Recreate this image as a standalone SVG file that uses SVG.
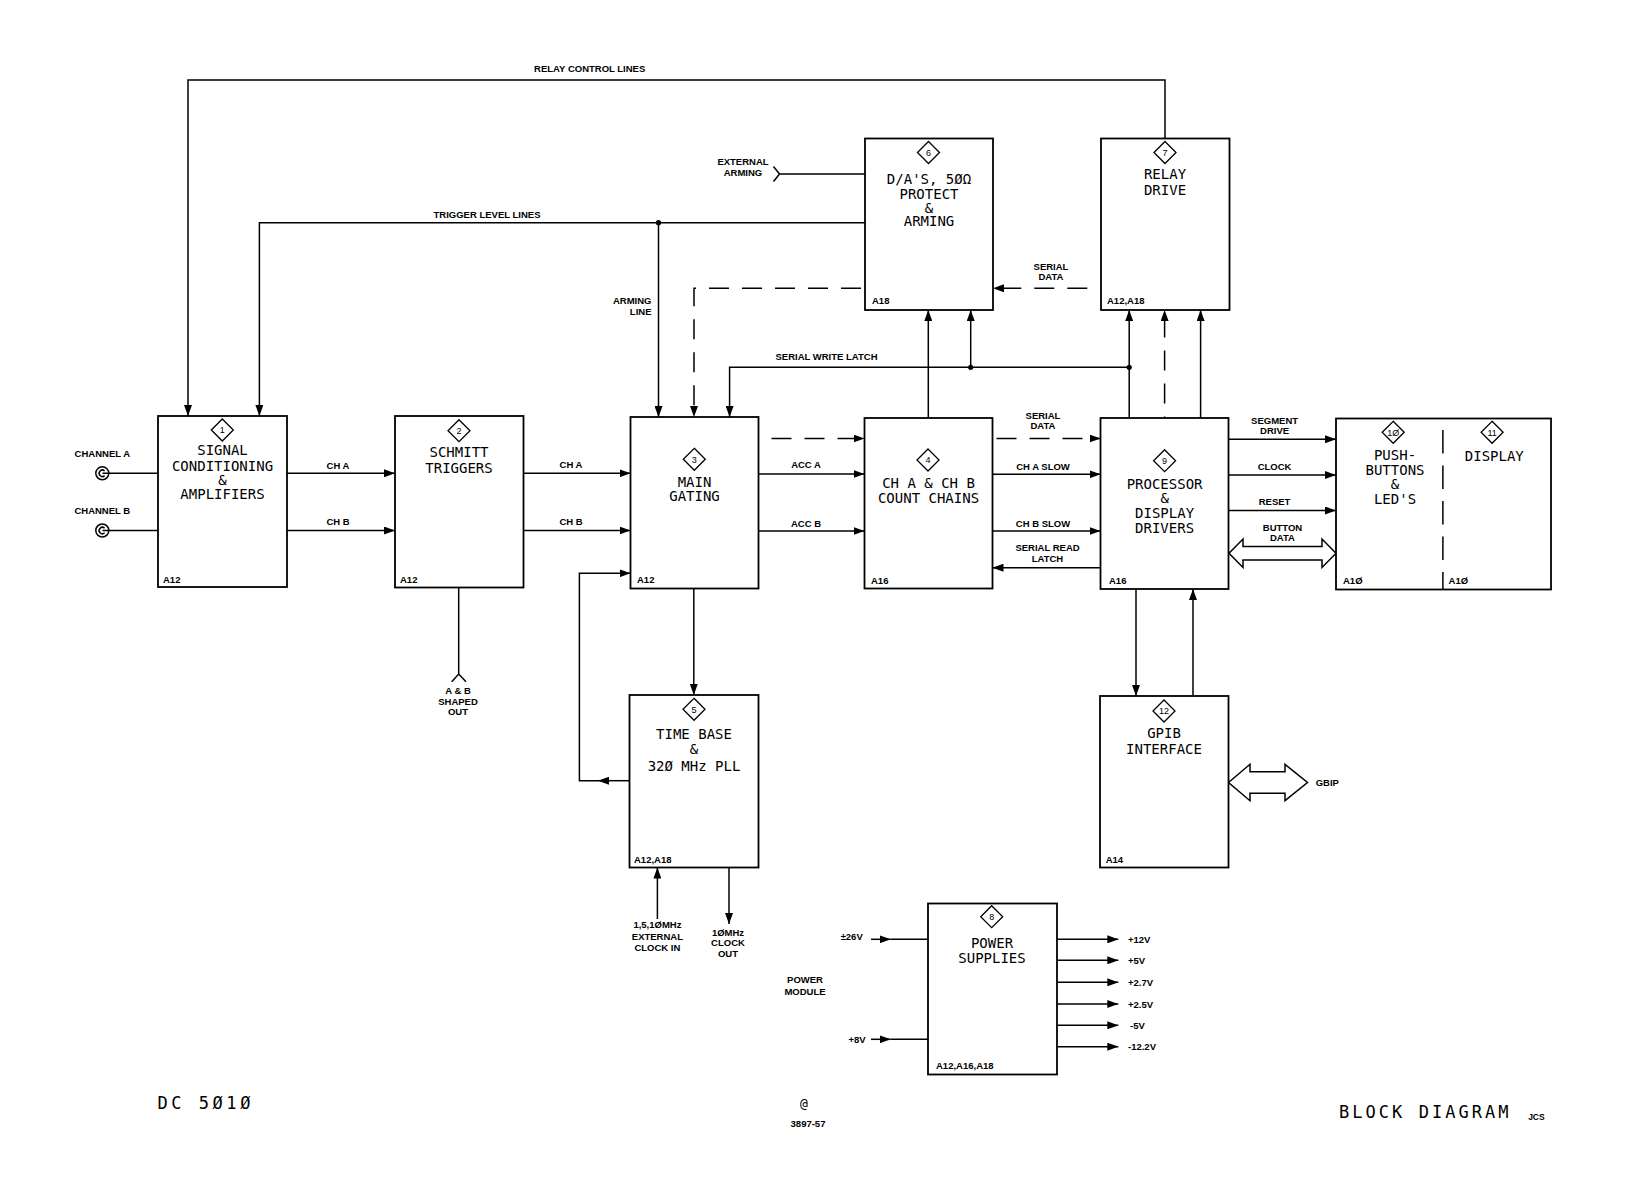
<svg xmlns="http://www.w3.org/2000/svg" width="1631" height="1178" viewBox="0 0 1631 1178">
<style>
.bg{fill:#fff}
.box{fill:#fff;stroke:#000;stroke-width:1.8}
.ln{fill:none;stroke:#000;stroke-width:1.5}
.dash{stroke-dasharray:20 13}
.big{font-family:"DejaVu Sans Mono","Liberation Mono",monospace;font-size:14px;text-anchor:middle;fill:#000}
.sm{font-family:"Liberation Sans",Arial,sans-serif;font-weight:bold;font-size:9.5px;text-anchor:middle;fill:#000}
.lft{text-anchor:start}
.rgt{text-anchor:end}
.num{font-family:"Liberation Sans",Arial,sans-serif;font-size:9px;text-anchor:middle;fill:#000}
.dia{fill:#fff;stroke:#000;stroke-width:1.3}
.dot{fill:#000}
.dbl{fill:#fff;stroke:#000;stroke-width:1.5}
.ttl{font-family:"DejaVu Sans Mono","Liberation Mono",monospace;font-size:17px;fill:#000}
</style>
<defs>
<marker id="ah" viewBox="0 0 11 8" refX="11" refY="4" markerWidth="11" markerHeight="8" markerUnits="userSpaceOnUse" orient="auto"><path d="M0,0 L11,4 L0,8 z" fill="#000"/></marker>
</defs>
<rect class="bg" x="0" y="0" width="1631" height="1178"/>

<g id="connectors">
<!-- relay control lines -->
<path class="ln" d="M1165,138.5 V80 H188 V416" marker-end="url(#ah)"/>
<text class="sm" x="589.7" y="71.5">RELAY CONTROL LINES</text>
<!-- trigger level lines -->
<path class="ln" d="M865,222.7 H259.4 V416" marker-end="url(#ah)"/>
<path class="ln" d="M658.5,222.7 V417" marker-end="url(#ah)"/>
<circle class="dot" cx="658.5" cy="222.7" r="2.6"/>
<text class="sm" x="487" y="217.5">TRIGGER LEVEL LINES</text>
<text class="sm rgt" x="651.5" y="304">ARMING</text>
<text class="sm rgt" x="651.5" y="315">LINE</text>
<!-- external arming -->
<path class="ln" d="M773.5,166.5 L779.5,174 L773.5,181.5 M779.5,174 H865"/>
<text class="sm" x="743" y="165">EXTERNAL</text>
<text class="sm" x="743" y="175.8">ARMING</text>
<!-- serial data loop (dashed) -->
<path class="ln dash" d="M1164.6,310 V288.3 H993" marker-end="url(#ah)"/>
<path class="ln dash" d="M993,288.3 H694 V417" marker-end="url(#ah)"/>
<path class="ln dash" d="M694,417 V438.5 H864.5" marker-end="url(#ah)"/>
<path class="ln dash" d="M864.5,438.5 H1100.5" marker-end="url(#ah)"/>
<path class="ln dash" d="M1100.5,438.5 H1164.6 V310" marker-end="url(#ah)"/>
<text class="sm" x="1051" y="270">SERIAL</text>
<text class="sm" x="1051" y="280">DATA</text>
<text class="sm" x="1043" y="418.5">SERIAL</text>
<text class="sm" x="1043" y="429">DATA</text>
<!-- serial write latch -->
<path class="ln" d="M1129.2,418 V310" marker-end="url(#ah)"/>
<path class="ln" d="M1129.2,367.3 H729.6 V417" marker-end="url(#ah)"/>
<path class="ln" d="M970.7,367.3 V310" marker-end="url(#ah)"/>
<circle class="dot" cx="970.7" cy="367.3" r="2.6"/>
<circle class="dot" cx="1129.2" cy="367.3" r="2.6"/>
<text class="sm" x="826.5" y="360">SERIAL WRITE LATCH</text>
<!-- box4 -> box6, box9 -> box7 -->
<path class="ln" d="M928.3,418 V310" marker-end="url(#ah)"/>
<path class="ln" d="M1200.6,418 V310" marker-end="url(#ah)"/>
<!-- channel inputs -->
<circle class="ln" cx="102.3" cy="473.3" r="6.5"/>
<path class="ln" d="M104.6,471 A3.2,3.2 0 1 0 104.6,475.6"/>
<path class="ln" d="M102.5,473.3 H158"/>
<circle class="ln" cx="102.3" cy="530.5" r="6.5"/>
<path class="ln" d="M104.6,528.2 A3.2,3.2 0 1 0 104.6,532.8"/>
<path class="ln" d="M102.5,530.5 H158"/>
<text class="sm" x="102.3" y="457">CHANNEL A</text>
<text class="sm" x="102.3" y="513.5">CHANNEL B</text>
<!-- box1 -> box2 -->
<path class="ln" d="M287,473.3 H395" marker-end="url(#ah)"/>
<path class="ln" d="M287,530.5 H395" marker-end="url(#ah)"/>
<text class="sm" x="338" y="468.5">CH A</text>
<text class="sm" x="338" y="525">CH B</text>
<!-- box2 -> box3 -->
<path class="ln" d="M523.5,473.3 H630.5" marker-end="url(#ah)"/>
<path class="ln" d="M523.5,530.5 H630.5" marker-end="url(#ah)"/>
<text class="sm" x="571" y="467.5">CH A</text>
<text class="sm" x="571" y="524.5">CH B</text>
<!-- shaped out -->
<path class="ln" d="M458.7,587.5 V674 M451.7,681.7 L458.7,674 L466,681.7"/>
<text class="sm" x="458" y="694">A &amp; B</text>
<text class="sm" x="458" y="704.5">SHAPED</text>
<text class="sm" x="458" y="715">OUT</text>
<!-- box3 -> box4 -->
<path class="ln" d="M758.5,474 H864.5" marker-end="url(#ah)"/>
<path class="ln" d="M758.5,531 H864.5" marker-end="url(#ah)"/>
<text class="sm" x="806" y="468">ACC A</text>
<text class="sm" x="806" y="527">ACC B</text>
<!-- box4 <-> box9 -->
<path class="ln" d="M992.5,474.3 H1100.5" marker-end="url(#ah)"/>
<path class="ln" d="M992.5,531 H1100.5" marker-end="url(#ah)"/>
<path class="ln" d="M1100.5,567.7 H992.5" marker-end="url(#ah)"/>
<text class="sm" x="1043" y="469.5">CH A SLOW</text>
<text class="sm" x="1043" y="527">CH B SLOW</text>
<text class="sm" x="1047.5" y="551">SERIAL READ</text>
<text class="sm" x="1047.5" y="561.5">LATCH</text>
<!-- box9 -> box10 -->
<path class="ln" d="M1228.5,439.3 H1336" marker-end="url(#ah)"/>
<path class="ln" d="M1228.5,475 H1336" marker-end="url(#ah)"/>
<path class="ln" d="M1228.5,510.5 H1336" marker-end="url(#ah)"/>
<polygon class="dbl" points="1229,553.3 1243,539 1243,546.5 1322,546.5 1322,539 1336,553.3 1322,567.5 1322,560 1243,560 1243,567.5"/>
<text class="sm" x="1274.6" y="423.5">SEGMENT</text>
<text class="sm" x="1274.6" y="433.5">DRIVE</text>
<text class="sm" x="1274.6" y="470">CLOCK</text>
<text class="sm" x="1274.6" y="505">RESET</text>
<text class="sm" x="1282.5" y="531">BUTTON</text>
<text class="sm" x="1282.5" y="541">DATA</text>
<!-- box9 <-> box12 -->
<path class="ln" d="M1136,589 V696" marker-end="url(#ah)"/>
<path class="ln" d="M1193,696 V589" marker-end="url(#ah)"/>
<!-- GBIP -->
<polygon class="dbl" points="1228.5,782.5 1250,764.3 1250,771.7 1285,771.7 1285,764.3 1307.5,782.5 1285,800.7 1285,793.3 1250,793.3 1250,800.7"/>
<text class="sm lft" x="1315.7" y="785.5">GBIP</text>
<!-- box3 -> box5 -->
<path class="ln" d="M693.8,588.5 V695" marker-end="url(#ah)"/>
<!-- feedback box5 -> box3 -->
<path class="ln" d="M629.5,780.7 H598" marker-end="url(#ah)"/>
<path class="ln" d="M598,780.7 H579.4 V573.3 H630.5" marker-end="url(#ah)"/>
<!-- box5 bottom -->
<path class="ln" d="M657.4,919 V867.5" marker-end="url(#ah)"/>
<path class="ln" d="M729,867.5 V924" marker-end="url(#ah)"/>
<text class="sm" x="657.4" y="928">1,5,1ØMHz</text>
<text class="sm" x="657.4" y="939.5">EXTERNAL</text>
<text class="sm" x="657.4" y="951">CLOCK IN</text>
<text class="sm" x="728" y="935.5">1ØMHz</text>
<text class="sm" x="728" y="946">CLOCK</text>
<text class="sm" x="728" y="956.5">OUT</text>
<!-- power -->
<path class="ln" d="M871,939.3 H890.7" marker-end="url(#ah)"/>
<path class="ln" d="M890.7,939.3 H928"/>
<path class="ln" d="M871,1039.3 H890.7" marker-end="url(#ah)"/>
<path class="ln" d="M890.7,1039.3 H928"/>
<text class="sm" x="851.7" y="940">±26V</text>
<text class="sm" x="857" y="1042.8">+8V</text>
<text class="sm" x="805" y="983">POWER</text>
<text class="sm" x="805" y="994.5">MODULE</text>
<path class="ln" d="M1057,939.3 H1118.3" marker-end="url(#ah)"/>
<path class="ln" d="M1057,960.3 H1118.3" marker-end="url(#ah)"/>
<path class="ln" d="M1057,982.3 H1118.3" marker-end="url(#ah)"/>
<path class="ln" d="M1057,1004 H1118.3" marker-end="url(#ah)"/>
<path class="ln" d="M1057,1025.3 H1118.3" marker-end="url(#ah)"/>
<path class="ln" d="M1057,1046.7 H1118.3" marker-end="url(#ah)"/>
<text class="sm lft" x="1128" y="942.8">+12V</text>
<text class="sm lft" x="1128" y="963.8">+5V</text>
<text class="sm lft" x="1128" y="985.8">+2.7V</text>
<text class="sm lft" x="1128" y="1007.5">+2.5V</text>
<text class="sm lft" x="1130" y="1028.8">-5V</text>
<text class="sm lft" x="1128" y="1050.2">-12.2V</text>
</g>

<g id="n1">
<rect class="box" x="158" y="416" width="129" height="171"/>
<polygon class="dia" points="222.3,419 233.3,430 222.3,441 211.3,430"/>
<text class="num" x="222.3" y="433.3">1</text>
<text class="big" x="222.5" y="455">SIGNAL</text>
<text class="big" x="222.5" y="471">CONDITIONING</text>
<text class="big" x="222.5" y="485">&amp;</text>
<text class="big" x="222.5" y="499">AMPLIFIERS</text>
<text class="sm lft" x="163" y="583">A12</text>
</g>

<g id="n2">
<rect class="box" x="395" y="416" width="128.5" height="171.5"/>
<polygon class="dia" points="459,419.7 470,430.7 459,441.7 448,430.7"/>
<text class="num" x="459" y="434">2</text>
<text class="big" x="459" y="457">SCHMITT</text>
<text class="big" x="459" y="473">TRIGGERS</text>
<text class="sm lft" x="400" y="583">A12</text>
</g>

<g id="n3">
<rect class="box" x="630.5" y="417" width="128" height="171.5"/>
<polygon class="dia" points="694.3,448.3 705.3,459.3 694.3,470.3 683.3,459.3"/>
<text class="num" x="694.3" y="462.6">3</text>
<text class="big" x="694.5" y="487">MAIN</text>
<text class="big" x="694.5" y="500.5">GATING</text>
<text class="sm lft" x="637" y="583">A12</text>
</g>

<g id="n4">
<rect class="box" x="864.5" y="418" width="128" height="170.5"/>
<polygon class="dia" points="928,449 939,460 928,471 917,460"/>
<text class="num" x="928" y="463.3">4</text>
<text class="big" x="928.5" y="488">CH A &amp; CH B</text>
<text class="big" x="928.5" y="503">COUNT CHAINS</text>
<text class="sm lft" x="871" y="583.5">A16</text>
</g>

<g id="n5">
<rect class="box" x="629.5" y="695" width="129" height="172.5"/>
<polygon class="dia" points="694,698.3 705,709.3 694,720.3 683,709.3"/>
<text class="num" x="694" y="712.6">5</text>
<text class="big" x="694" y="739">TIME BASE</text>
<text class="big" x="694" y="753.5">&amp;</text>
<text class="big" x="694" y="771">32Ø MHz PLL</text>
<text class="sm lft" x="634" y="862.7">A12,A18</text>
</g>

<g id="n6">
<rect class="box" x="865" y="138.5" width="128" height="171.5"/>
<polygon class="dia" points="928.5,141.5 939.5,152.5 928.5,163.5 917.5,152.5"/>
<text class="num" x="928.5" y="155.8">6</text>
<text class="big" x="929" y="183.5">D/A'S, 5ØΩ</text>
<text class="big" x="929" y="199">PROTECT</text>
<text class="big" x="929" y="212.5">&amp;</text>
<text class="big" x="929" y="225.5">ARMING</text>
<text class="sm lft" x="872" y="304">A18</text>
</g>

<g id="n7">
<rect class="box" x="1101" y="138.5" width="128.5" height="171.5"/>
<polygon class="dia" points="1165,141.5 1176,152.5 1165,163.5 1154,152.5"/>
<text class="num" x="1165" y="155.8">7</text>
<text class="big" x="1165" y="178.5">RELAY</text>
<text class="big" x="1165" y="195">DRIVE</text>
<text class="sm lft" x="1107" y="304">A12,A18</text>
</g>

<g id="n8">
<rect class="box" x="928" y="903.5" width="129" height="171"/>
<polygon class="dia" points="991.7,905.7 1002.7,916.7 991.7,927.7 980.7,916.7"/>
<text class="num" x="991.7" y="920">8</text>
<text class="big" x="992" y="947.5">POWER</text>
<text class="big" x="992" y="963">SUPPLIES</text>
<text class="sm lft" x="936" y="1068.7">A12,A16,A18</text>
</g>

<g id="n9">
<rect class="box" x="1100.5" y="418" width="128" height="171"/>
<polygon class="dia" points="1164.6,449.7 1175.6,460.7 1164.6,471.7 1153.6,460.7"/>
<text class="num" x="1164.6" y="464">9</text>
<text class="big" x="1164.6" y="489">PROCESSOR</text>
<text class="big" x="1164.6" y="502.5">&amp;</text>
<text class="big" x="1164.6" y="518">DISPLAY</text>
<text class="big" x="1164.6" y="533">DRIVERS</text>
<text class="sm lft" x="1109" y="584">A16</text>
</g>

<g id="n10">
<rect class="box" x="1336" y="418.5" width="215" height="171"/>
<path class="ln dash" d="M1442.9,430 V589.5" style="stroke-dasharray:23.5 12"/>
<polygon class="dia" points="1393.2,421.3 1404.2,432.3 1393.2,443.3 1382.2,432.3"/>
<text class="num" x="1393.2" y="435.6">1Ø</text>
<text class="big" x="1395" y="460">PUSH-</text>
<text class="big" x="1395" y="475">BUTTONS</text>
<text class="big" x="1395" y="488.5">&amp;</text>
<text class="big" x="1395" y="504">LED'S</text>
<text class="sm lft" x="1343" y="584">A1Ø</text>
</g>

<g id="n11">
<polygon class="dia" points="1492.1,421.3 1503.1,432.3 1492.1,443.3 1481.1,432.3"/>
<text class="num" x="1492.1" y="435.6">11</text>
<text class="big" x="1494.3" y="461">DISPLAY</text>
<text class="sm lft" x="1448.6" y="584">A1Ø</text>
</g>

<g id="n12">
<rect class="box" x="1100" y="696" width="128.5" height="171.5"/>
<polygon class="dia" points="1164,700 1175,711 1164,722 1153,711"/>
<text class="num" x="1164" y="714.3">12</text>
<text class="big" x="1164" y="738">GPIB</text>
<text class="big" x="1164" y="753.5">INTERFACE</text>
<text class="sm lft" x="1105.7" y="862.7">A14</text>
</g>

<g id="titles">
<text class="ttl" x="157.4" y="1109" textLength="93" lengthAdjust="spacing">DC 5Ø1Ø</text>
<text class="big" x="804" y="1108" style="font-size:13px">@</text>
<text class="sm" x="808" y="1126.5">3897-57</text>
<text class="ttl" x="1339" y="1118" textLength="169.6" lengthAdjust="spacing">BLOCK DIAGRAM</text>
<text class="sm" x="1536.4" y="1120" style="font-size:8.5px">JCS</text>
</g>
</svg>
